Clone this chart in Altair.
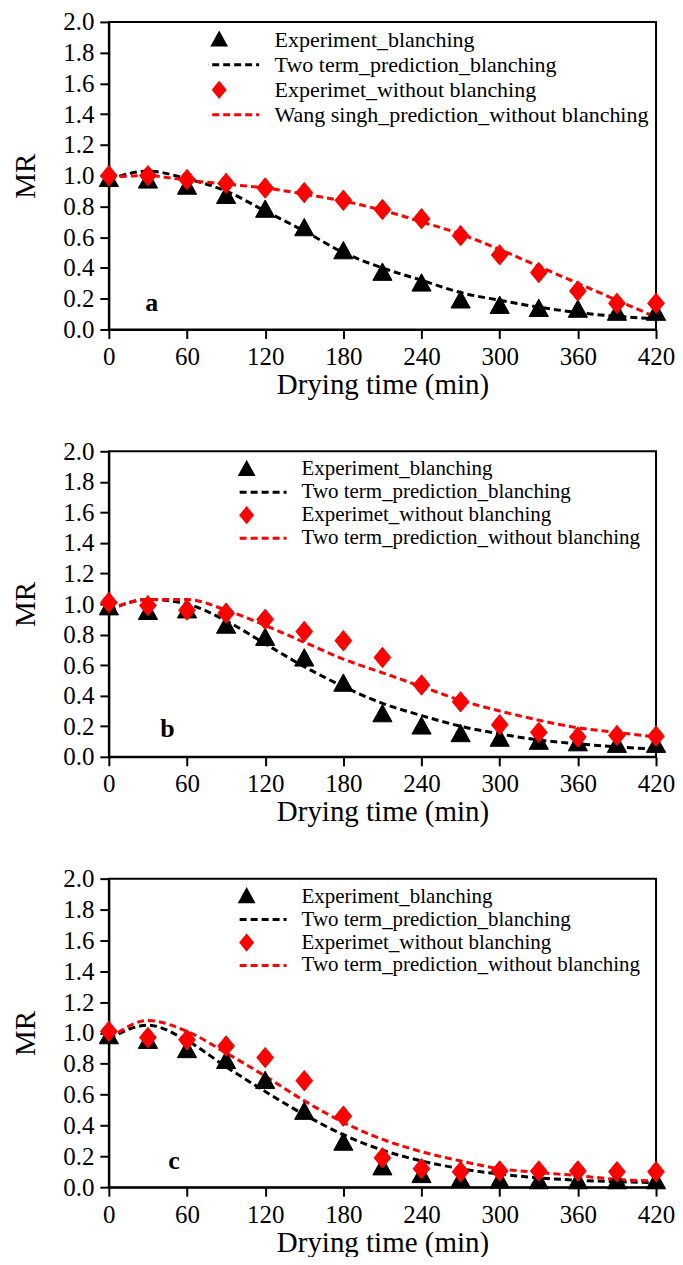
import altair as alt
import pandas as pd

minutes = [0, 30, 60, 90, 120, 150, 180, 210, 240, 270, 300, 330, 360, 390, 420]

# Panel a
a_exp_bl = [0.98, 0.97, 0.93, 0.87, 0.78, 0.66, 0.51, 0.37, 0.30, 0.19, 0.155, 0.135, 0.13, 0.11, 0.11]
a_exp_wb = [1.00, 1.00, 0.975, 0.95, 0.92, 0.89, 0.84, 0.78, 0.72, 0.61, 0.485, 0.37, 0.25, 0.17, 0.17]
a_pred_bl = [0.975, 1.03, 0.98, 0.90, 0.77, 0.64, 0.50, 0.40, 0.32, 0.24, 0.19, 0.145, 0.11, 0.085, 0.07]
a_pred_wb = [0.99, 1.00, 0.97, 0.945, 0.92, 0.88, 0.835, 0.775, 0.70, 0.62, 0.52, 0.41, 0.30, 0.19, 0.08]

# Panel b
b_exp_bl = [0.98, 0.95, 0.96, 0.86, 0.78, 0.645, 0.48, 0.28, 0.20, 0.15, 0.12, 0.10, 0.09, 0.08, 0.08]
b_exp_wb = [1.01, 0.99, 0.96, 0.94, 0.90, 0.82, 0.76, 0.65, 0.47, 0.36, 0.21, 0.16, 0.13, 0.14, 0.135]
b_pred_bl = [0.96, 1.03, 1.00, 0.89, 0.74, 0.59, 0.46, 0.35, 0.27, 0.20, 0.15, 0.11, 0.085, 0.065, 0.05]
b_pred_wb = [0.96, 1.03, 1.03, 0.96, 0.86, 0.75, 0.64, 0.55, 0.46, 0.37, 0.30, 0.24, 0.19, 0.16, 0.13]

# Panel c
c_exp_bl = [0.98, 0.95, 0.89, 0.82, 0.69, 0.49, 0.29, 0.13, 0.08, 0.05, 0.045, 0.04, 0.04, 0.04, 0.04]
c_exp_wb = [1.01, 0.97, 0.955, 0.915, 0.84, 0.69, 0.46, 0.19, 0.12, 0.10, 0.105, 0.105, 0.105, 0.10, 0.10]
c_pred_bl = [0.96, 1.05, 0.95, 0.78, 0.62, 0.47, 0.34, 0.24, 0.17, 0.12, 0.085, 0.06, 0.045, 0.035, 0.03]
c_pred_wb = [0.96, 1.08, 1.01, 0.87, 0.72, 0.56, 0.42, 0.31, 0.23, 0.17, 0.12, 0.095, 0.075, 0.05, 0.04]

names_a = ["Experiment_blanching", "Two term_prediction_blanching",
           "Experimet_without blanching", "Wang singh_prediction_without blanching"]
names_bc = ["Experiment_blanching", "Two term_prediction_blanching",
            "Experimet_without blanching", "Two term_prediction_without blanching"]

panel_letters = ["a", "b", "c"]
letter_x = [33, 45, 50]
letter_y = [0.17, 0.18, 0.17]

colors = ["#000000", "#000000", "#ff0000", "#ff0000"]
TRI = "M0,-1.28L1.28,1.04L-1.28,1.04Z"
DIA = "M0,-1.36L1.12,0L0,1.36L-1.12,0Z"
LINE = "M-8,0L8,0"
shapes = [TRI, LINE, DIA, LINE]
dashes = [[1, 0], [7, 4], [1, 0], [7, 4]]

FONT = "Liberation Serif"
W = 548


def panel(idx, exp_bl, exp_wb, pred_bl, pred_wb, names, h, legend_x, row_h, leg_font):
    pts = pd.DataFrame({
        "t": minutes * 2,
        "mr": exp_bl + exp_wb,
        "series": [names[0]] * len(minutes) + [names[2]] * len(minutes),
    })
    lines = pd.DataFrame({
        "t": minutes * 2,
        "mr": pred_bl + pred_wb,
        "series": [names[1]] * len(minutes) + [names[3]] * len(minutes),
    })
    lab = pd.DataFrame({"t": [letter_x[idx]], "mr": [letter_y[idx]], "txt": [panel_letters[idx]]})

    x = alt.X("t:Q", title="Drying time (min)",
              scale=alt.Scale(domain=[0, 420], nice=False),
              axis=alt.Axis(values=list(range(0, 421, 60)), labelFlush=False))
    y = alt.Y("mr:Q", title="MR",
              scale=alt.Scale(domain=[0, 2], nice=False),
              axis=alt.Axis(values=[i / 10 for i in range(0, 21, 2)], format=".1f"))

    leg = alt.Legend(title=None, orient="none", legendX=legend_x, legendY=18 - row_h / 2,
                     symbolSize=100, symbolStrokeWidth=3, labelFont=FONT,
                     labelFontSize=leg_font, labelColor="black", labelLimit=0, clipHeight=row_h,
                     labelOffset=44.5, rowPadding=0, padding=0)

    sc_fill = alt.Scale(domain=names, range=colors)
    sc_shape = alt.Scale(domain=names, range=shapes)
    sc_dash = alt.Scale(domain=names, range=dashes)

    line_layer = alt.Chart(lines).mark_line(strokeWidth=3, interpolate="monotone").encode(
        x=x, y=y,
        stroke=alt.Stroke("series:N", scale=sc_fill, legend=leg),
        strokeDash=alt.StrokeDash("series:N", scale=sc_dash, legend=leg),
    )
    point_layer = alt.Chart(pts).mark_point(filled=True, opacity=1, size=225, strokeWidth=1).encode(
        x=x, y=y,
        fill=alt.Fill("series:N", scale=sc_fill, legend=leg),
        stroke=alt.Stroke("series:N", scale=sc_fill, legend=leg),
        shape=alt.Shape("series:N", scale=sc_shape, legend=leg),
    )
    text_layer = alt.Chart(lab).mark_text(font=FONT, fontSize=26, fontWeight="bold",
                                          color="black").encode(x=x, y=y, text="txt:N")
    return alt.layer(line_layer, point_layer, text_layer).properties(width=W, height=h)


pa = panel(0, a_exp_bl, a_exp_wb, a_pred_bl, a_pred_wb, names_a, 308, 99.5, 25, 22)
pb = panel(1, b_exp_bl, b_exp_wb, b_pred_bl, b_pred_wb, names_bc, 306, 127.5, 23, 21)
pc = panel(2, c_exp_bl, c_exp_wb, c_pred_bl, c_pred_wb, names_bc, 309, 127.5, 23, 21)

chart = alt.vconcat(pa, pb, pc, spacing=122, bounds="flush").resolve_scale(
    fill="independent", stroke="independent", shape="independent", strokeDash="independent"
).resolve_legend(
    fill="independent", stroke="independent", shape="independent", strokeDash="independent"
).properties(
    padding={"left": 2, "top": 0, "right": -1, "bottom": -2}
).configure_view(
    stroke="black", strokeWidth=2
).configure_axis(
    grid=False, domainColor="black", domainWidth=2, tickColor="black", tickWidth=2,
    tickSize=9, labelFont=FONT, labelFontSize=25, labelColor="black", labelPadding=6,
    titleFont=FONT, titleFontSize=29, titleFontWeight="normal", titleColor="black"
).configure_axisX(titlePadding=1).configure_axisY(titlePadding=22)

chart.save("out.html", embed_options={"renderer": "svg", "actions": False})
